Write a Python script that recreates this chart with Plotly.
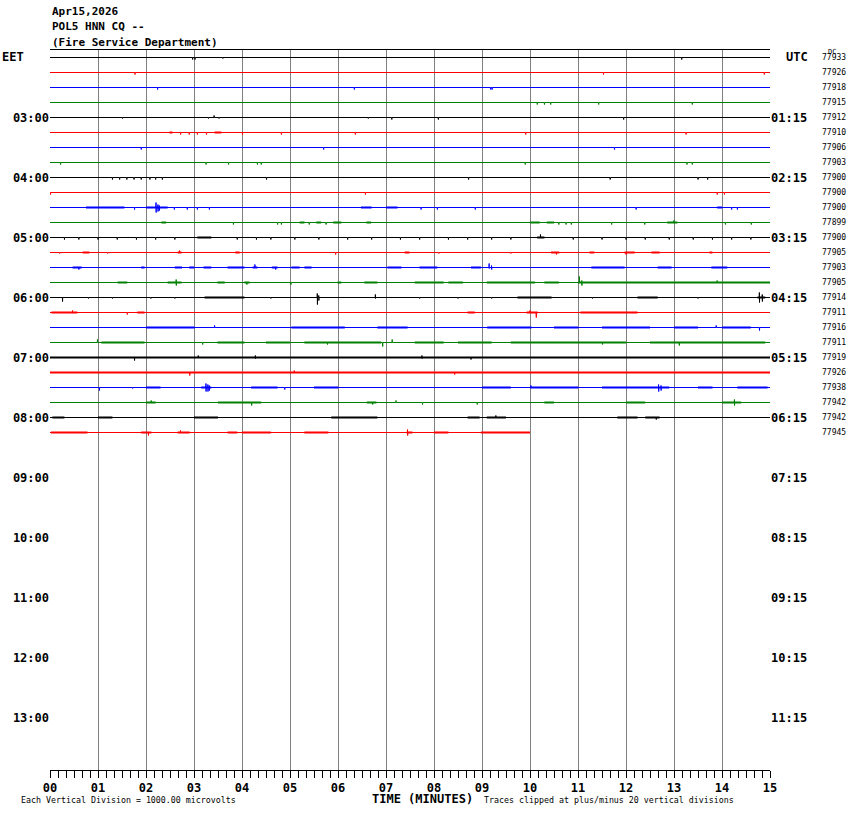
import plotly.graph_objects as go

# ---------------- data ----------------
title_lines = ["Apr15,2026", "POL5 HNN CQ --", "(Fire Service Department)"]
left_zone = "EET"
right_zone = "UTC"
left_hour_labels = ["03:00", "04:00", "05:00", "06:00", "07:00", "08:00",
                    "09:00", "10:00", "11:00", "12:00", "13:00"]
right_hour_labels = ["01:15", "02:15", "03:15", "04:15", "05:15", "06:15",
                     "07:15", "08:15", "09:15", "10:15", "11:15"]
hour_label_rows = [4, 8, 12, 16, 20, 24, 28, 32, 36, 40, 44]
minute_ticks = list(range(16))
minute_labels = ["%02d" % m for m in minute_ticks]
n_rows_total = 48
row_dc_values = [77933, 77926, 77918, 77915, 77912, 77910, 77906, 77903,
                 77900, 77900, 77900, 77899, 77900, 77905, 77903, 77905,
                 77914, 77911, 77916, 77911, 77919, 77926, 77938, 77942,
                 77942, 77945]
row_end_minute = [15] * 25 + [10]
trace_colors = ["black", "red", "blue", "green"]

# spikes per row: (minute, up amplitude, down amplitude), amplitude in 1/15 of a row
trace_spikes = [
    [(2.97, 0, 2), (3.02, 0, 2), (3.6, 0, 1), (13.16, 0, 2)],
    [(1.77, 0, 2), (11.53, 0, 2), (14.88, 0, 2)],
    [(2.24, 0, 2), (6.34, 0, 2), (9.18, 0, 2), (9.21, 0, 2)],
    [(10.15, 0, 2), (10.3, 0, 2), (10.43, 0, 2), (11.43, 0, 2), (13.38, 0, 2)],
    [(1.51, 0, 1), (3.3, 0, 1), (3.42, 2, 0), (3.52, 0, 1), (6.63, 0, 1), (7.12, 0, 2), (8.09, 0, 2), (11.95, 0, 2)],
    [(2.72, 0, 2), (2.9, 0, 2), (3.07, 0, 2), (3.26, 0, 2), (4.01, 0, 2), (4.82, 0, 2), (6.36, 0, 2), (9.91, 0, 2), (13.25, 0, 2)],
    [(1.9, 0, 2), (5.7, 0, 2), (11.76, 0, 2)],
    [(0.22, 0, 2), (3.25, 0, 2), (3.72, 0, 2), (4.32, 0, 2), (4.4, 0, 2), (9.9, 0, 2), (13.27, 0, 2), (13.38, 0, 2)],
    [(1.3, 0, 2), (1.45, 0, 2), (1.6, 0, 2), (1.75, 0, 2), (1.9, 0, 2), (2.08, 0, 2), (2.2, 0, 2), (2.34, 0, 2), (4.51, 0, 2), (8.72, 0, 2), (11.67, 0, 2), (13.5, 0, 2), (13.7, 0, 2)],
    [(0.01, 0, 2), (6.57, 0, 2), (13.9, 0, 2), (14.05, 0, 2)],
    [(1.76, 0, 2), (2.21, 5, 5), (2.25, 3, 4), (2.28, 2, 3), (2.59, 0, 2), (2.86, 0, 2), (3.07, 0, 2), (3.32, 0, 2), (7.73, 0, 2), (8.07, 0, 2), (8.86, 0, 2), (12.21, 0, 2), (14.2, 0, 2), (14.32, 0, 2)],
    [(3.82, 0, 2), (4.74, 0, 2), (4.82, 0, 2), (5.4, 0, 2), (5.75, 0, 2), (10.6, 0, 2), (10.75, 0, 2), (10.86, 0, 2), (11.7, 0, 2), (12.39, 0, 2), (13.0, 2, 0), (14.07, 0, 2), (14.61, 0, 2)],
    [(0.3, 0, 2), (0.6, 0, 2), (1.0, 0, 2), (1.4, 0, 2), (1.8, 0, 2), (2.2, 0, 2), (2.6, 0, 2), (3.9, 0, 2), (4.3, 0, 2), (4.6, 0, 2), (5.1, 0, 2), (5.6, 0, 2), (6.2, 0, 2), (6.7, 0, 2), (7.3, 0, 2), (7.7, 0, 2), (8.3, 0, 2), (8.7, 0, 2), (9.2, 0, 2), (9.6, 0, 2), (10.22, 3, 0), (10.9, 0, 2), (11.5, 0, 2), (12.0, 0, 2), (12.4, 0, 2), (12.9, 0, 2), (13.4, 0, 2), (13.8, 0, 2), (14.2, 0, 2), (14.6, 0, 2)],
    [(0.2, 0, 1), (1.2, 0, 1), (2.7, 2, 0), (5.95, 0, 2), (8.1, 0, 1), (9.6, 0, 1), (10.55, 0, 2), (12.0, 0, 2)],
    [(0.6, 0, 2), (4.27, 3, 0), (4.7, 0, 2), (9.15, 4, 1), (9.2, 2, 2)],
    [(2.63, 3, 3), (4.1, 0, 2), (5.02, 0, 2), (11.03, 6, 0), (11.08, 2, 3), (13.9, 2, 0)],
    [(0.26, 0, 4), (0.8, 0, 1), (1.3, 0, 1), (2.1, 0, 1), (2.6, 0, 1), (4.6, 0, 1), (5.57, 4, 7), (5.6, 2, 3), (6.78, 3, 1), (7.7, 0, 1), (8.5, 0, 1), (9.2, 0, 1), (11.3, 0, 1), (13.5, 0, 1), (14.78, 5, 5), (14.84, 3, 4)],
    [(0.47, 2, 0), (1.61, 0, 2), (10.0, 2, 0), (10.13, 0, 5)],
    [(3.43, 2, 0), (13.88, 2, 0), (14.78, 0, 3)],
    [(0.99, 3, 0), (3.18, 0, 2), (5.78, 0, 2), (6.93, 0, 4), (7.13, 3, 0), (11.51, 0, 2), (13.11, 0, 3)],
    [(1.76, 0, 3), (3.09, 2, 0), (4.28, 2, 1), (7.75, 2, 1), (8.77, 0, 2)],
    [(2.91, 0, 3), (5.09, 2, 0), (8.43, 0, 2)],
    [(1.03, 0, 3), (1.72, 0, 1), (3.25, 4, 4), (3.29, 3, 4), (3.32, 2, 3), (4.89, 0, 2), (10.02, 2, 0), (12.68, 3, 4), (12.73, 2, 3)],
    [(2.11, 2, 0), (4.2, 0, 3), (6.72, 0, 2), (7.21, 2, 0), (7.76, 0, 2), (8.9, 0, 2), (14.26, 3, 3)],
    [(9.29, 2, 0), (12.63, 0, 2)],
    [(2.05, 0, 3), (2.72, 2, 0), (7.45, 3, 3)],
]

# stretches of dense small-amplitude noise per row: (start minute, end minute)
trace_noise = [
    [], [], [], [], [],
    [(2.49, 2.55), (3.43, 3.57)],
    [], [], [], [],
    [(0.75, 1.55), (2.0, 2.45), (6.48, 6.7), (7.0, 7.24), (13.9, 14.0)],
    [(2.32, 2.42), (5.2, 5.3), (5.55, 5.65), (5.9, 6.07), (6.59, 6.69), (10.0, 10.2), (10.35, 10.5), (12.86, 13.07)],
    [(3.07, 3.36), (10.15, 10.3)],
    [(0.68, 0.82), (2.66, 2.74), (3.86, 3.95), (7.39, 7.49), (10.44, 10.61), (11.24, 11.34), (11.97, 12.18), (12.53, 12.7), (13.74, 13.8)],
    [(0.47, 0.66), (1.9, 1.97), (2.6, 2.75), (2.9, 3.0), (3.2, 3.36), (3.7, 4.05), (4.22, 4.32), (4.62, 4.74), (5.03, 5.2), (5.3, 5.45), (7.03, 7.32), (7.7, 8.07), (8.77, 8.98), (11.28, 11.97), (12.66, 12.95), (13.78, 14.11)],
    [(1.41, 1.61), (2.45, 2.74), (3.49, 3.64), (4.05, 4.16), (5.99, 6.07), (6.55, 6.82), (7.6, 8.2), (8.3, 8.6), (9.1, 10.1), (10.3, 10.6), (11.0, 15.0)],
    [(3.22, 4.05), (9.74, 10.45), (12.24, 12.66), (14.74, 14.9)],
    [(0.03, 0.57), (1.82, 1.97), (8.7, 8.85), (9.93, 10.16), (11.05, 12.24)],
    [(2.0, 3.01), (5.03, 6.14), (6.82, 7.45), (9.11, 10.03), (10.5, 11.0), (11.5, 12.5), (13.0, 13.5), (14.0, 14.6)],
    [(1.07, 1.97), (3.49, 4.05), (4.5, 5.0), (5.3, 6.9), (7.6, 8.2), (8.5, 9.2), (9.6, 12.0), (12.5, 14.9)],
    [(0.0, 15.0)],
    [(0.0, 15.0)],
    [(2.0, 2.3), (3.15, 3.36), (4.19, 4.74), (5.5, 6.0), (9.0, 9.6), (10.0, 11.0), (11.5, 12.9), (13.5, 13.8), (14.32, 14.95)],
    [(2.0, 2.2), (3.5, 4.4), (6.6, 6.8), (10.3, 10.5), (12.0, 12.4), (14.0, 14.4)],
    [(0.05, 0.3), (1.0, 1.3), (3.0, 3.5), (5.86, 6.82), (8.7, 8.95), (9.1, 9.5), (11.82, 12.24), (12.4, 12.7)],
    [(0.02, 0.78), (1.9, 2.11), (2.66, 2.91), (3.7, 3.9), (4.0, 4.6), (5.3, 5.8), (7.43, 7.55), (8.0, 8.3), (8.98, 10.0)],
]

bottom_left_note = "Each Vertical Division = 1000.00 microvolts"
bottom_right_note = "Traces clipped at plus/minus 20 vertical divisions"
x_title = "TIME (MINUTES)"

# ---------------- figure ----------------
W, H = 850, 814
ML, MR, MT, MB = 50, 80, 50, 44
PW, PH = W - ML - MR, H - MT - MB
MONO = "DejaVu Sans Mono"
ROW_PX = PH / n_rows_total


def px_x(p):
    return (p - ML) / PW


def px_y(p):
    return (H - MB - p) / PH


def bold(labels):
    return ["<b>%s</b>" % s for s in labels]


fig = go.Figure()

for i, spikes in enumerate(trace_spikes):
    color = trace_colors[i % 4]
    end = row_end_minute[i]
    xs, ys = [0.0], [float(i)]
    for m, up, down in sorted(spikes):
        xs += [m - 0.004, m - 0.0015, m + 0.0015, m + 0.004]
        ys += [i, i - up / ROW_PX, i + down / ROW_PX, i]
    xs.append(end)
    ys.append(float(i))
    nx, ny = [], []
    for a, b in trace_noise[i]:
        nx += [a, min(b, end), None]
        ny += [i, i, None]
    if nx:
        fig.add_trace(go.Scatter(x=nx, y=ny, mode="lines",
                                 line=dict(color=color, width=2),
                                 hoverinfo="skip", showlegend=False))
    fig.add_trace(go.Scatter(x=xs, y=ys, mode="lines",
                             line=dict(color=color, width=1),
                             hoverinfo="skip", showlegend=False))

# invisible trace to activate right axis
fig.add_trace(go.Scatter(x=[None], y=[None], yaxis="y2", showlegend=False))

fig.update_layout(
    width=W, height=H,
    margin=dict(l=ML, r=MR, t=MT, b=MB),
    paper_bgcolor="white", plot_bgcolor="white",
    font=dict(family=MONO, color="black"),
    xaxis=dict(range=[0, 15], tickmode="array", tickvals=minute_ticks,
               ticktext=bold(minute_labels), showgrid=True, gridcolor="#808080",
               gridwidth=1, zeroline=False, showline=True, linecolor="black",
               linewidth=1, mirror=True, ticks="outside", ticklen=7,
               tickcolor="black", tickfont=dict(family=MONO, size=12, color="black"),
               minor=dict(dtick=1 / 6, tick0=0, ticks="outside", ticklen=7,
                          tickcolor="black", showgrid=False)),
    yaxis=dict(range=[n_rows_total - 0.5, -0.5], tickmode="array",
               tickvals=hour_label_rows, ticktext=bold(left_hour_labels),
               showgrid=False, zeroline=False, showline=False, ticks="",
               tickfont=dict(family=MONO, size=12, color="black")),
    yaxis2=dict(range=[n_rows_total - 0.5, -0.5], overlaying="y", side="right",
                tickmode="array", tickvals=hour_label_rows,
                ticktext=bold(right_hour_labels), showgrid=False, zeroline=False,
                showline=False, ticks="",
                tickfont=dict(family=MONO, size=12, color="black")),
)

ann = []
for k, t in enumerate(title_lines):
    ann.append(dict(text="<b>%s</b>" % t, x=px_x(50), y=px_y(12 + 15 * k),
                    xanchor="left", yanchor="middle", font=dict(size=11)))
ann.append(dict(text="<b>%s</b>" % left_zone, x=px_x(0), y=px_y(57),
                xanchor="left", yanchor="middle", font=dict(size=12)))
ann.append(dict(text="<b>%s</b>" % right_zone, x=px_x(784), y=px_y(57),
                xanchor="left", yanchor="middle", font=dict(size=12)))
ann.append(dict(text="DC", x=px_x(826), y=px_y(52), xanchor="left",
                yanchor="middle", font=dict(size=7)))
for i, v in enumerate(row_dc_values):
    ann.append(dict(text=str(v), x=px_x(820), xref="paper", y=i, yref="y",
                    xanchor="left", yanchor="middle", font=dict(size=8)))
ann.append(dict(text="<b>%s</b>" % x_title, x=px_x(422), y=px_y(799),
                xanchor="center", yanchor="middle", font=dict(size=12)))
ann.append(dict(text=bottom_left_note, x=px_x(19), y=px_y(800),
                xanchor="left", yanchor="middle", font=dict(size=8.3)))
ann.append(dict(text=bottom_right_note, x=px_x(482), y=px_y(800),
                xanchor="left", yanchor="middle", font=dict(size=8.3)))

for a in ann:
    a.setdefault("xref", "paper")
    a.setdefault("yref", "paper")
    a["showarrow"] = False
    a.setdefault("font", {})
    a["font"].setdefault("family", MONO)
    a["font"].setdefault("color", "black")
fig.update_layout(annotations=ann)

fig.write_html("out.html", config={"displayModeBar": False},
               post_script="document.body.style.margin='0';document.body.style.padding='0';")
